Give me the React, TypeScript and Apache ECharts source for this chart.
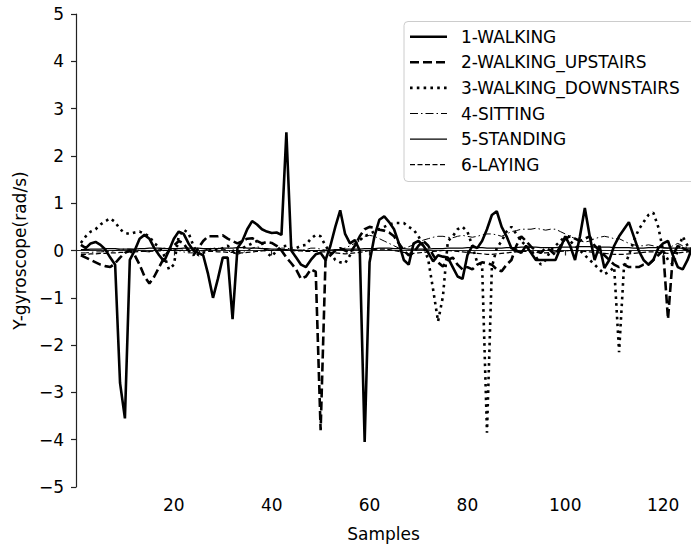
import React, { useEffect, useRef } from "react";
import * as echarts from "echarts";

const SAMPLES = Array.from({ length: 126 }, (_, i) => i + 1);

const WALKING = [
  0.12, 0.05, 0.15, 0.18, 0.12, 0.02, -0.15, -0.3, -2.8, -3.55,
  -0.2, 0.0, 0.25, 0.33, 0.25, 0.05, -0.1, -0.23, 0.0, 0.25,
  0.4, 0.35, 0.15, 0.0, -0.05, -0.1, -0.5, -1.0, -0.6, -0.15,
  -0.15, -1.45, 0.05, 0.2, 0.45, 0.62, 0.55, 0.45, 0.4, 0.37,
  0.38, 0.33, 2.5, 0.0, -0.15, -0.3, -0.35, -0.2, -0.08, -0.05,
  -0.2, 0.1, 0.5, 0.85, 0.35, 0.15, 0.22, 0.0, -4.05, -0.25,
  0.3, 0.65, 0.72, 0.6, 0.45, 0.15, -0.2, -0.3, 0.15, 0.2,
  0.1, -0.05, -0.23, -0.1, -0.13, -0.15, -0.35, -0.55, -0.6, -0.1,
  0.1, 0.05, 0.2, 0.45, 0.75, 0.83, 0.5, 0.3, 0.05, 0.0,
  -0.05, 0.1, -0.05, -0.2, -0.2, -0.2, -0.2, -0.2, 0.05, 0.3,
  0.1, -0.2, 0.3, 0.9, 0.3, -0.2, 0.1, -0.37, -0.2, 0.1,
  0.3, 0.45, 0.6, 0.3, 0.0, -0.2, -0.3, -0.2, 0.05, 0.15,
  0.2, -0.1, -0.35, -0.4, -0.2, 0.08,
];

const UPSTAIRS = [
  -0.1, -0.15, -0.2, -0.25, -0.3, -0.33, -0.35, -0.27, -0.15, -0.05,
  0.0, -0.1, -0.3, -0.55, -0.7, -0.55, -0.35, -0.15, 0.0, 0.1,
  0.2, 0.15, 0.0, -0.1, 0.05, 0.2, 0.3, 0.3, 0.3, 0.32,
  0.25, 0.2, 0.15, 0.2, 0.25, 0.26, 0.2, 0.15, 0.18, 0.16,
  0.1, 0.0, -0.15, -0.27, -0.4, -0.6, -0.55, -0.4, -0.45, -3.8,
  -0.2, -0.1, 0.0, 0.05, 0.0, -0.05, 0.1, 0.3, 0.45, 0.5,
  0.48, 0.44, 0.42, 0.38, 0.3, 0.15, 0.0, -0.1, -0.05, 0.1,
  0.2, 0.1, -0.1, -0.25, -0.34, -0.2, -0.15, -0.3, -0.4, -0.35,
  -0.4, -0.3, -0.25, -0.27, -0.3, -0.4, -0.44, -0.3, -0.2, 0.1,
  0.3, 0.2, 0.08, 0.0, -0.05, 0.05, 0.0, -0.1, 0.1, 0.25,
  0.3, 0.25, 0.2, 0.25, 0.3, 0.1, 0.0, -0.1, -0.2, -0.3,
  -0.35, -0.3, -0.35, -0.35, -0.35, -0.3, -0.3, -0.2, -0.1, 0.0,
  -1.45, -0.1, 0.1, 0.05, 0.0, 0.0,
];

const DOWNSTAIRS = [
  0.16, 0.3, 0.4, 0.45, 0.55, 0.62, 0.68, 0.6, 0.45, 0.37,
  0.35, 0.38, 0.4, 0.35, 0.3, 0.15, 0.08, -0.1, -0.4, -0.3,
  0.3, 0.44, 0.37, 0.1, -0.1, -0.05, 0.0, 0.05, 0.0, 0.05,
  0.1, 0.0, -0.05, 0.05, 0.1, 0.15, 0.2, 0.16, -0.05, -0.13,
  0.0, 0.08, 0.1, 0.05, 0.05, 0.1, 0.12, 0.25, 0.33, 0.3,
  0.1, -0.05, -0.2, -0.25, -0.27, -0.1, 0.1, 0.22, 0.3, 0.35,
  0.4, 0.45, 0.5, 0.55, 0.58, 0.58, 0.58, 0.5, 0.44, 0.3,
  0.1, -0.2, -0.83, -1.5, -0.97, 0.2, 0.3, 0.45, 0.5, 0.4,
  0.1, -0.25, -0.3, -3.85, -0.35, 0.05, 0.2, 0.4, 0.5, 0.35,
  0.2, 0.1, 0.0, -0.13, -0.3, -0.2, 0.0, 0.1, 0.2, 0.3,
  0.2, 0.1, 0.0, -0.1, -0.2, -0.3, -0.4, -0.5, -0.45, -0.35,
  -2.15, -0.35, -0.1, 0.2, 0.44, 0.6, 0.75, 0.8, 0.5, 0.0,
  -0.2, -0.3, 0.0, 0.3, 0.1, 0.0,
];

const SITTING = [
  -0.05, -0.05, -0.04, -0.03, -0.03, -0.02, -0.02, 0.0, 0.02, 0.03,
  0.03, 0.02, 0.0, -0.02, -0.03, 0.0, 0.03, 0.05, 0.05, 0.03,
  0.0, -0.03, -0.05, -0.05, -0.03, 0.0, 0.03, 0.05, 0.05, 0.03,
  0.0, -0.05, -0.08, -0.05, 0.0, 0.05, 0.08, 0.05, 0.02, 0.0,
  0.02, 0.05, 0.05, 0.03, 0.0, 0.0, 0.02, 0.05, 0.05, 0.03,
  0.0, -0.03, 0.0, 0.03, 0.05, 0.1, 0.15, 0.2, 0.3, 0.32,
  0.3, 0.25, 0.2, 0.15, 0.1, 0.05, 0.05, 0.08, 0.12, 0.18,
  0.22, 0.25, 0.28, 0.3, 0.3, 0.28, 0.27, 0.3, 0.32, 0.3,
  0.28, 0.3, 0.33, 0.35, 0.35, 0.33, 0.3, 0.35, 0.4, 0.42,
  0.45, 0.45, 0.45, 0.47, 0.45, 0.43, 0.45, 0.45, 0.4, 0.35,
  0.3, 0.25, 0.2, 0.18, 0.2, 0.25, 0.28, 0.3, 0.28, 0.25,
  0.25, 0.2, 0.15, 0.12, 0.1, 0.1, 0.12, 0.1, 0.08, 0.05,
  0.05, 0.1, 0.15, 0.1, 0.05, 0.05,
];

const STANDING = [
  0.02, 0.02, 0.03, 0.03, 0.03, 0.04, 0.04, 0.04, 0.03, 0.03,
  0.03, 0.03, 0.04, 0.04, 0.05, 0.05, 0.05, 0.04, 0.04, 0.04,
  0.04, 0.05, 0.05, 0.05, 0.05, 0.04, 0.04, 0.04, 0.04, 0.05,
  0.05, 0.05, 0.06, 0.06, 0.05, 0.05, 0.05, 0.04, 0.04, 0.03,
  0.03, 0.02, 0.02, 0.01, 0.01, 0.01, 0.0, 0.0, 0.0, 0.0,
  0.01, 0.01, 0.02, 0.02, 0.03, 0.03, 0.03, 0.03, 0.04, 0.04,
  0.04, 0.05, 0.05, 0.05, 0.04, 0.04, 0.04, 0.03, 0.03, 0.03,
  0.03, 0.03, 0.04, 0.04, 0.04, 0.05, 0.05, 0.05, 0.05, 0.06,
  0.06, 0.06, 0.06, 0.05, 0.05, 0.05, 0.05, 0.06, 0.06, 0.06,
  0.07, 0.07, 0.07, 0.07, 0.06, 0.06, 0.06, 0.06, 0.07, 0.07,
  0.07, 0.07, 0.08, 0.08, 0.08, 0.07, 0.07, 0.07, 0.07, 0.06,
  0.06, 0.06, 0.06, 0.05, 0.05, 0.05, 0.06, 0.06, 0.06, 0.06,
  0.05, 0.05, 0.05, 0.05, 0.05, 0.05,
];

const LAYING = [
  -0.08, -0.08, -0.07, -0.07, -0.06, -0.06, -0.05, -0.05, -0.04, -0.04,
  -0.03, -0.03, -0.02, -0.02, -0.02, -0.01, -0.01, 0.0, 0.0, 0.0,
  0.0, 0.01, 0.01, 0.0, 0.0, -0.01, -0.02, -0.02, -0.03, -0.03,
  -0.04, -0.04, -0.05, -0.05, -0.04, -0.03, -0.02, -0.01, 0.0, 0.0,
  0.01, 0.01, 0.0, 0.0, -0.01, -0.01, -0.02, -0.02, -0.02, -0.03,
  -0.03, -0.04, -0.05, -0.06, -0.07, -0.06, -0.05, -0.04, -0.02, 0.0,
  0.02, 0.03, 0.03, 0.02, 0.0, -0.02, -0.04, -0.05, -0.06, -0.05,
  -0.04, -0.03, -0.02, -0.01, 0.0, 0.0, -0.01, -0.02, -0.03, -0.04,
  -0.05, -0.06, -0.07, -0.08, -0.08, -0.07, -0.06, -0.05, -0.04, -0.03,
  -0.02, -0.02, -0.03, -0.04, -0.05, -0.05, -0.04, -0.03, -0.02, -0.01,
  0.0, 0.0, -0.01, -0.02, -0.03, -0.04, -0.05, -0.06, -0.07, -0.08,
  -0.08, -0.08, -0.07, -0.06, -0.05, -0.04, -0.03, -0.03, -0.04, -0.05,
  -0.06, -0.06, -0.05, -0.04, -0.03, -0.03,
];

const SERIES_NAMES = [
  "1-WALKING",
  "2-WALKING_UPSTAIRS",
  "3-WALKING_DOWNSTAIRS",
  "4-SITTING",
  "5-STANDING",
  "6-LAYING",
];
const SERIES_VALUES = [WALKING, UPSTAIRS, DOWNSTAIRS, SITTING, STANDING, LAYING];
const X_TICKS = [20, 40, 60, 80, 100, 120];

const STYLES: { width: number; type: any }[] = [
  { width: 2.6, type: "solid" },
  { width: 2.6, type: [9, 4] },
  { width: 2.6, type: [2.6, 4.2] },
  { width: 1, type: [8, 3, 1.5, 3] },
  { width: 1.2, type: "solid" },
  { width: 1.2, type: [5, 2.5] },
];

const FONT = "DejaVu Sans";

export default function App() {
  const ref = useRef<HTMLDivElement>(null);
  useEffect(() => {
    if (!ref.current) return;
    const chart = echarts.init(ref.current, null, { renderer: "svg" });

    const legendX = 404;
    const legendY = 21.5;
    const rowH = 25.6;
    const legendChildren: any[] = [
      {
        type: "rect",
        shape: { x: legendX, y: legendY, width: 310, height: 160, r: 4 },
        style: { fill: "rgba(255,255,255,0.85)", stroke: "#cccccc", lineWidth: 1 },
      },
    ];
    SERIES_NAMES.forEach((name, i) => {
      const cy = legendY + 15.2 + rowH * i;
      legendChildren.push({
        type: "line",
        shape: { x1: legendX + 6, y1: cy, x2: legendX + 43, y2: cy },
        style: {
          stroke: "#000",
          lineWidth: STYLES[i].width,
          lineDash: Array.isArray(STYLES[i].type) ? STYLES[i].type : null,
        },
      });
      legendChildren.push({
        type: "text",
        x: legendX + 57,
        y: cy,
        style: {
          text: name,
          font: `17px "${FONT}"`,
          fill: "#000",
          verticalAlign: "middle",
          align: "left",
        },
      });
    });

    chart.setOption({
      animation: false,
      backgroundColor: "#fff",
      grid: { left: 76, top: 14, right: 0, bottom: 60, containLabel: false },
      xAxis: {
        type: "value",
        min: 0,
        max: 125.7,
        interval: 20,
        name: "Samples",
        nameLocation: "middle",
        nameGap: 38,
        nameTextStyle: { fontFamily: FONT, fontSize: 17, color: "#000" },
        splitLine: { show: false },
        axisLine: { lineStyle: { color: "#222", width: 1.2 } },
        axisTick: { customValues: X_TICKS, length: 5, lineStyle: { color: "#222", width: 1.2 } },
        axisLabel: {
          customValues: X_TICKS,
          margin: 9,
          fontFamily: FONT,
          fontSize: 17,
          color: "#000",
        },
      },
      yAxis: {
        type: "value",
        min: -5,
        max: 5,
        interval: 1,
        name: "Y-gyroscope(rad/s)",
        nameLocation: "middle",
        nameGap: 46,
        nameTextStyle: { fontFamily: FONT, fontSize: 17, color: "#000" },
        splitLine: { show: false },
        axisLine: { show: true, lineStyle: { color: "#222", width: 1.2 } },
        axisTick: { show: true, length: 5, lineStyle: { color: "#222", width: 1.2 } },
        axisLabel: {
          margin: 12,
          fontFamily: FONT,
          fontSize: 17,
          color: "#000",
          formatter: (v: number) => String(v).replace("-", "\u2212"),
        },
      },
      series: SERIES_NAMES.map((name, i) => ({
        name,
        type: "line",
        symbol: "none",
        data: SAMPLES.map((x, j) => [x, SERIES_VALUES[i][j]]),
        lineStyle: { color: "#000", width: STYLES[i].width, type: STYLES[i].type },
        z: 2 + (5 - i),
      })),
      graphic: [{ type: "group", z: 100, children: legendChildren }],
    });
    return () => chart.dispose();
  }, []);
  return (
    <div
      ref={ref}
      style={{ position: "fixed", left: 0, top: 0, width: 691, height: 547, background: "#fff" }}
    />
  );
}
